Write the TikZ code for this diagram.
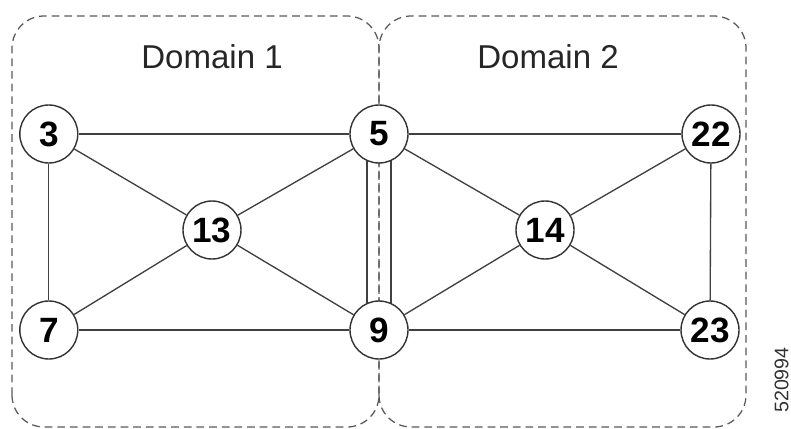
\documentclass[tikz,border=0pt]{standalone}
\usepackage{fontspec}
\setmainfont{Liberation Sans}
\usetikzlibrary{backgrounds}

\begin{document}
\begin{tikzpicture}[
                router/.style={circle, draw=black!80, line width=1pt, fill=white, minimum size=1.45cm, inner sep=0pt, font=\fontsize{25}{28}\selectfont\bfseries},
                domainbox/.style={dashed, dash pattern=on 5.5pt off 3.5pt, draw=black!65, line width=0.9pt, rounded corners=0.8cm},
                link/.style={draw=black!75, line width=0.95pt},
                domlabel/.style={font=\fontsize{23.5}{26}\selectfont, text=black!85},
            ]
            \useasboundingbox (0,0) rectangle (19.775,10.7);

            \node[domlabel] (d1) at (5.3, 9.29)  {Domain 1};
            \node[domlabel] (d2) at (13.7,9.29)  {Domain 2};

            \node[router] (n3)  at (1.22, 7.35)  {3};
            \node[router] (n5)  at (9.475,7.35)  {5};
            \node[router] (n22) at (17.775,7.35) {22};
            \node[router] (n13) at (5.3,  4.95)  {13};
            \node[router] (n14) at (13.625,4.95) {14};
            \node[router] (n7)  at (1.22, 2.45)  {7};
            \node[router] (n9)  at (9.475,2.45)  {9};
            \node[router] (n23) at (17.75,2.45)  {23};

            \begin{scope}[on background layer]
                \draw[domainbox] (0.3,0.025) rectangle (9.475,10.3);
                \draw[domainbox] (9.475,0.025) rectangle (18.65,10.3);
                \draw[link] ([xshift=-0.3cm]n5.center) -- ([xshift=-0.3cm]n9.center);
                \draw[link] ([xshift=0.3cm]n5.center) -- ([xshift=0.3cm]n9.center);
            \end{scope}

            \draw[link] (n3) -- (n5);
            \draw[link] (n3) -- (n13);
            \draw[link] (n3) -- (n7);
            \draw[link] (n13) -- (n5);
            \draw[link] (n13) -- (n7);
            \draw[link] (n13) -- (n9);
            \draw[link] (n7) -- (n9);
            \draw[link] (n5) -- (n22);
            \draw[link] (n5) -- (n14);
            \draw[link] (n9) -- (n14);
            \draw[link] (n9) -- (n23);
            \draw[link] (n14) -- (n22);
            \draw[link] (n14) -- (n23);
            \draw[link] (n22) -- (n23);

            \node[rotate=90, anchor=south, inner sep=0pt, font=\fontsize{14}{16}\selectfont, text=black!80] (fig) at (19.72,1.2) {520994};
        \end{tikzpicture}
\end{document}
